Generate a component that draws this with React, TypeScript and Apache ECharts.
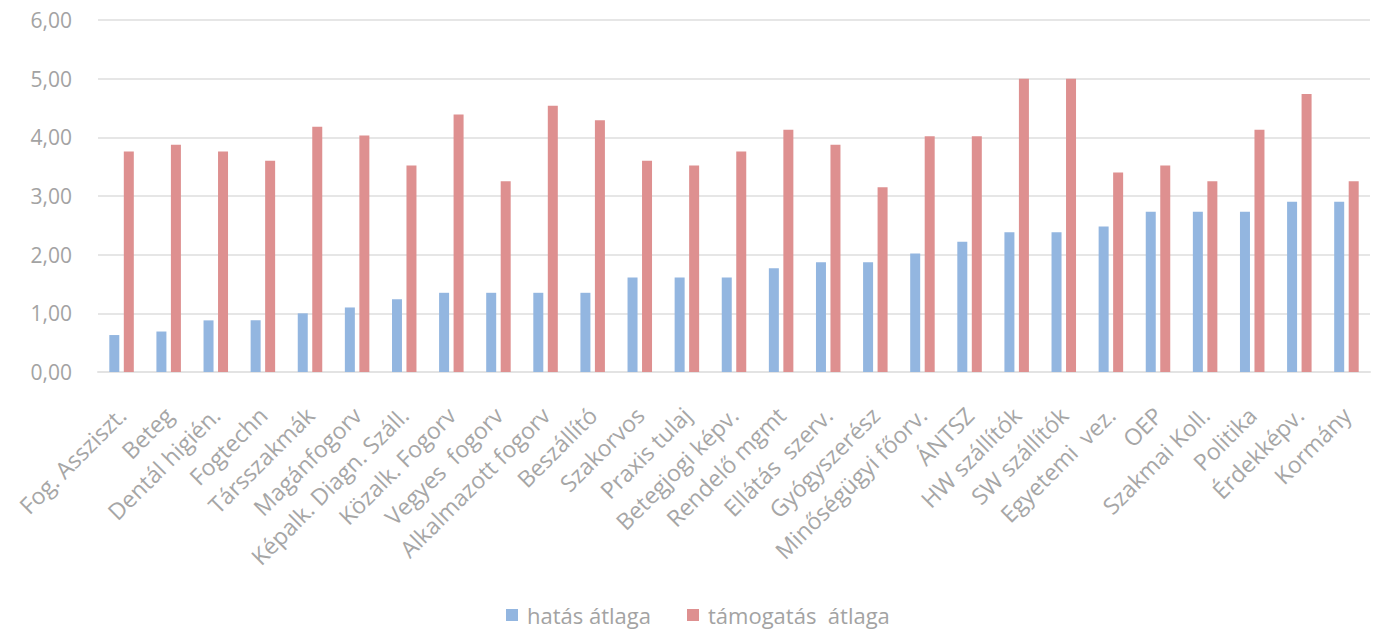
import React, { useEffect, useRef } from "react";
import * as echarts from "echarts";

const categories = [
  "Fog. Assziszt.", "Beteg", "Dentál higién.", "Fogtechn", "Társszakmák", "Magánfogorv",
  "Képalk. Diagn. Száll.", "Közalk. Fogorv", "Vegyes  fogorv", "Alkalmazott fogorv", "Beszállító",
  "Szakorvos", "Praxis tulaj", "Betegjogi képv.", "Rendelő mgmt", "Ellátás  szerv.", "Gyógyszerész",
  "Minőségügyi főorv.", "ÁNTSZ", "HW szállítók", "SW szállítók", "Egyetemi  vez.", "OEP",
  "Szakmai Koll.", "Politika", "Érdekképv.", "Kormány",
];

const hatasAtlaga = [
  0.63, 0.69, 0.88, 0.88, 1.0, 1.1, 1.24, 1.35, 1.35, 1.35, 1.35, 1.61, 1.61, 1.61,
  1.77, 1.87, 1.87, 2.02, 2.22, 2.38, 2.38, 2.48, 2.73, 2.73, 2.73, 2.9, 2.9,
];

const tamogatasAtlaga = [
  3.76, 3.875, 3.76, 3.6, 4.18, 4.03, 3.52, 4.39, 3.25, 4.54, 4.29, 3.6, 3.52, 3.76,
  4.13, 3.875, 3.15, 4.02, 4.02, 5.0, 5.0, 3.4, 3.52, 3.25, 4.13, 4.74, 3.25,
];

const seriesNames = ["hatás átlaga", "támogatás  átlaga"];
const FONT = "'Open Sans', sans-serif";

export default function App() {
  const ref = useRef<HTMLDivElement>(null);
  useEffect(() => {
    if (!ref.current) return;
    const chart = echarts.init(ref.current, null, { renderer: "svg" });
    chart.setOption({
      animation: false,
      backgroundColor: "#ffffff",
      textStyle: { fontFamily: FONT },
      grid: { left: 98, right: 6, top: 20, bottom: 259, containLabel: false },
      legend: {
        data: seriesNames,
        left: 501,
        top: 599,
        itemWidth: 12,
        itemHeight: 12,
        itemGap: 36,
        icon: "rect",
        textStyle: { color: "#a3a3a3", fontSize: 22, fontFamily: FONT, padding: [0, 0, 0, 4] },
      },
      xAxis: {
        type: "category",
        data: categories,
        axisLine: { show: true, lineStyle: { color: "#e3e3e3", width: 2 } },
        axisTick: { show: false },
        axisLabel: {
          rotate: 45,
          interval: 0,
          margin: 39,
          color: "#a6a6a6",
          fontSize: 23,
          fontFamily: FONT,
        },
      },
      yAxis: {
        type: "value",
        min: 0,
        max: 6,
        interval: 1,
        axisLine: { show: false },
        axisTick: { show: false },
        splitLine: { lineStyle: { color: "#e6e6e6", width: 2 } },
        axisLabel: {
          margin: 26,
          color: "#a3a3a3",
          fontSize: 21,
          fontFamily: FONT,
          formatter: (v: number) => v.toFixed(2).replace(".", ","),
        },
      },
      series: [
        {
          name: seriesNames[0],
          type: "bar",
          data: hatasAtlaga,
          barWidth: 10,
          barGap: "45%",
          itemStyle: { color: "#93b6e0" },
        },
        {
          name: seriesNames[1],
          type: "bar",
          data: tamogatasAtlaga,
          barWidth: 10,
          itemStyle: { color: "#de9090" },
        },
      ],
    });
    return () => chart.dispose();
  }, []);
  return (
    <div
      ref={ref}
      style={{ position: "fixed", left: 0, top: 0, width: 1376, height: 631, background: "#fff" }}
    />
  );
}
